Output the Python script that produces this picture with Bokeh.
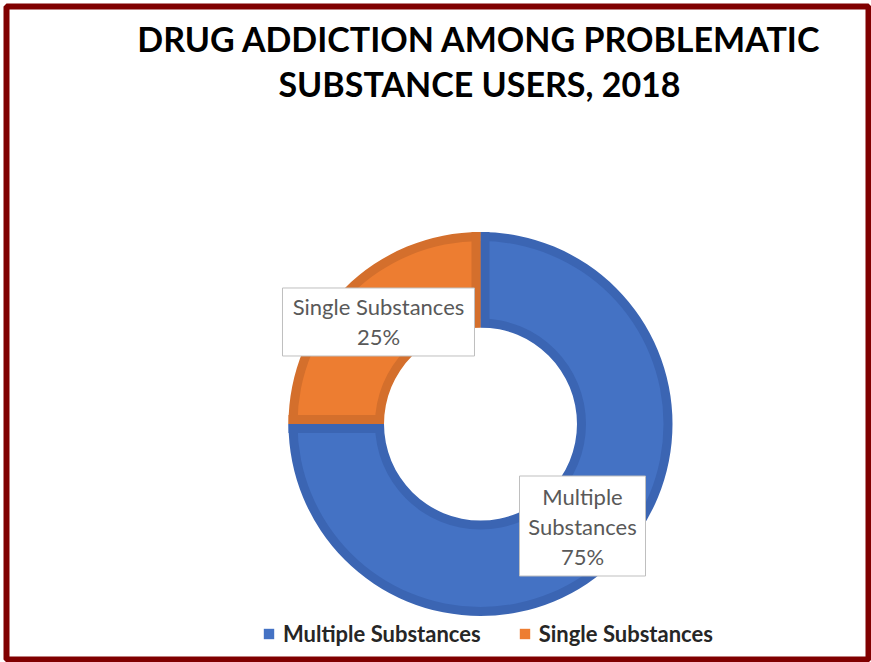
import math
from bokeh.plotting import figure
from bokeh.models import Range1d, ColumnDataSource, Label, Legend, LegendItem
from bokeh.core.properties import value
from bokeh.embed import file_html
from bokeh.resources import INLINE

# ---- data ----
title_lines = ["DRUG ADDICTION AMONG PROBLEMATIC", "SUBSTANCE USERS, 2018"]
categories = ["Multiple Substances", "Single Substances"]
shares = [75, 25]
label_wrap = [True, False]

# ---- style ----
fill_colors = ["#4472C4", "#ED7D31"]
edge_colors = ["#3B65B3", "#D46F2C"]
box_w = [126, 192]
box_h = [100, 68]
line_gap = 30

W, H = 871, 662
cx, cy = 480, 238.5
r_in, r_out = 96.5, 192
band = 9
rmid = (r_in + r_out) / 2

p = figure(width=W, height=H, output_backend="svg", toolbar_location=None,
           x_range=Range1d(6, 868), y_range=Range1d(3, 656),
           x_axis_type=None, y_axis_type=None,
           min_border_left=6, min_border_right=3, min_border_top=6, min_border_bottom=3)
p.outline_line_color = "#800000"
p.outline_line_width = 6
p.background_fill_color = "white"
p.border_fill_color = "white"

total = sum(shares)
starts, ends = [], []
cum = 0
for v in shares:
    hi = math.pi / 2 - 2 * math.pi * cum / total
    cum += v
    lo = math.pi / 2 - 2 * math.pi * cum / total
    starts.append(lo)
    ends.append(hi)

n = len(categories)
src = ColumnDataSource(dict(x=[cx] * n, y=[cy] * n, start=starts, end=ends,
                            dark=edge_colors, light=fill_colors, cat=categories))

p.annular_wedge(x="x", y="y", inner_radius=r_in, outer_radius=r_out,
                start_angle="start", end_angle="end", fill_color="dark",
                line_color=None, source=src)
light_r = p.annular_wedge(x="x", y="y", inner_radius=r_in + band, outer_radius=r_out - band,
                          start_angle="start", end_angle="end", fill_color="light",
                          line_color=None, source=src)

# darker bands along the straight edges of each slice
bx, by, bang, bcol = [], [], [], []
for s, e, col in zip(starts, ends, edge_colors):
    for theta, sign in ((s, 1), (e, -1)):
        px, py = -math.sin(theta) * sign, math.cos(theta) * sign
        bx.append(cx + rmid * math.cos(theta) + band / 2 * px)
        by.append(cy + rmid * math.sin(theta) + band / 2 * py)
        bang.append(theta)
        bcol.append(col)
p.rect(x=bx, y=by, width=r_out - r_in, height=band, angle=bang,
       fill_color=bcol, line_color=None)

# data labels
mids = [(s + e) / 2 for s, e in zip(starts, ends)]
lx = [cx + rmid * math.cos(m) for m in mids]
ly = [cy + rmid * math.sin(m) for m in mids]
p.rect(x=lx, y=ly, width=box_w, height=box_h, fill_color="white",
       line_color="#BFBFBF", line_width=1)

tx, ty, tt = [], [], []
for cat, v, wrap, x0, y0 in zip(categories, shares, label_wrap, lx, ly):
    lines = (cat.split(" ") if wrap else [cat]) + [f"{round(100 * v / total)}%"]
    k = len(lines)
    for i, line in enumerate(lines):
        tx.append(x0)
        ty.append(y0 + ((k - 1) / 2 - i) * line_gap)
        tt.append(line)
p.text(x=tx, y=ty, text=tt, text_font=value("Lato"), text_font_size="22px",
       text_color="#595959", text_align="center", text_baseline="middle")

# title
for i, line in enumerate(title_lines):
    p.add_layout(Label(x=479, y=624 - 45 * i, text=line, text_font="Lato",
                       text_font_style="bold", text_font_size="34px",
                       text_align="center", text_baseline="alphabetic",
                       text_color="#000000"))

# legend
items = [LegendItem(label=c, renderers=[light_r], index=i) for i, c in enumerate(categories)]
legend = Legend(items=items, orientation="horizontal", location=(256, 12),
                label_text_font="Lato", label_text_font_style="bold",
                label_text_font_size="22px", label_text_color="#262626",
                glyph_width=13, glyph_height=13, label_standoff=8, spacing=37,
                padding=0, margin=0, border_line_color=None,
                background_fill_alpha=0)
p.add_layout(legend)

open("out.html", "w").write(file_html(p, INLINE))
